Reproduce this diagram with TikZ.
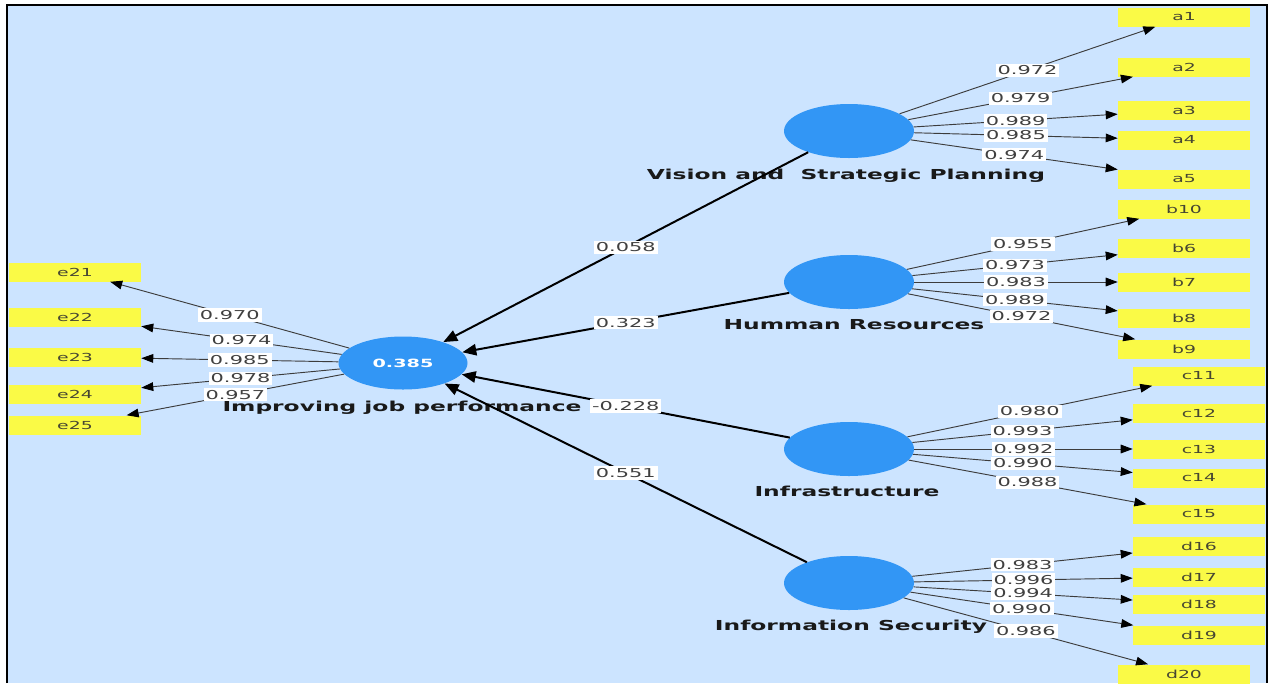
\documentclass[tikz,border=0pt]{standalone}
\usepackage{fontspec}
\usetikzlibrary{arrows.meta,shapes.geometric}
\newfontfamily\stf[FakeStretch=1.7]{DejaVu Sans}
\definecolor{bg}{RGB}{204,228,255}
\definecolor{lv}{RGB}{50,150,245}
\definecolor{ind}{RGB}{250,250,70}
\definecolor{indtxt}{RGB}{70,70,50}
\definecolor{ld}{RGB}{60,60,60}
\begin{document}
\begin{tikzpicture}[x=0.75pt,y=-0.75pt,
 lvar/.style={ellipse,fill=lv,minimum width=97.5pt,minimum height=40.5pt,inner sep=0pt},
 indbox/.style={fill=ind,minimum width=99pt,minimum height=14.25pt,inner sep=0pt,font=\stf\fontsize{8.3}{9}\selectfont,text=indtxt},
 lvlab/.style={font=\stf\bfseries\fontsize{10.3}{12}\selectfont,text=black!90,inner sep=0pt},
 wt/.style={fill=white,inner xsep=1.5pt,inner ysep=1.5pt,font=\stf\fontsize{9.2}{10}\selectfont,text=black!75},
 load/.style={draw=ld,line width=0.7pt,-{Triangle[length=9pt,width=6.5pt,fill=black,color=black]}},
 spath/.style={draw=black,line width=1.5pt,-{Triangle[length=10.5pt,width=8.5pt]}},
]
\useasboundingbox (0,0) rectangle (1272,683);
\fill[white] (0,0) rectangle (1272,683);
\fill[bg] (7,5) rectangle (1267,683);
\draw[line width=1.5pt] (7,683) -- (7,5) -- (1267,5) -- (1267,683);

% latent variables
\node[lvar] (V) at (849,131) {};
\node[lvar] (H) at (849,282) {};
\node[lvar] (I) at (849,449) {};
\node[lvar] (S) at (849,583) {};
\node[lvar,minimum width=96.75pt,minimum height=39.75pt] (J) at (403,363) {\stf\bfseries\fontsize{8.5}{10}\selectfont\textcolor{white}{0.385}};

% latent labels
\node[lvlab] (Vl) at (846,176) {Vision and\ \ Strategic Planning};
\node[lvlab] (Hl) at (854,325) {Humman Resources};
\node[lvlab] (Il) at (847,491) {Infrastructure};
\node[lvlab] (Sl) at (851,627) {Information Security};
\node[lvlab] (Jl) at (402,408) {Improving job performance};

% indicators
\node[indbox] (a1) at (1184,17) {a1};
\node[indbox] (a2) at (1184,67) {a2};
\node[indbox] (a3) at (1184,110) {a3};
\node[indbox] (a4) at (1184,140) {a4};
\node[indbox] (a5) at (1184,179) {a5};
\node[indbox] (b10) at (1184,209) {b10};
\node[indbox] (b6) at (1184,248) {b6};
\node[indbox] (b7) at (1184,282) {b7};
\node[indbox] (b8) at (1184,318) {b8};
\node[indbox] (b9) at (1184,349) {b9};
\node[indbox] (c11) at (1199,376) {c11};
\node[indbox] (c12) at (1199,413) {c12};
\node[indbox] (c13) at (1199,449) {c13};
\node[indbox] (c14) at (1199,478) {c14};
\node[indbox] (c15) at (1199,514) {c15};
\node[indbox] (d16) at (1199,546) {d16};
\node[indbox] (d17) at (1199,577) {d17};
\node[indbox] (d18) at (1199,604) {d18};
\node[indbox] (d19) at (1199,635) {d19};
\node[indbox] (d20) at (1184,674) {d20};
\node[indbox] (e21) at (75,272) {e21};
\node[indbox] (e22) at (75,317) {e22};
\node[indbox] (e23) at (75,357) {e23};
\node[indbox] (e24) at (75,394) {e24};
\node[indbox] (e25) at (75,425) {e25};

% loadings
\draw[load] (V) -- node[wt]{0.972} (a1);
\draw[load] (V) -- node[wt]{0.979} (a2);
\draw[load] (V) -- node[wt]{0.989} (a3);
\draw[load] (V) -- node[wt]{0.985} (a4);
\draw[load] (V) -- node[wt]{0.974} (a5);
\draw[load] (H) -- node[wt]{0.955} (b10);
\draw[load] (H) -- node[wt]{0.973} (b6);
\draw[load] (H) -- node[wt]{0.983} (b7);
\draw[load] (H) -- node[wt]{0.989} (b8);
\draw[load] (H) -- node[wt]{0.972} (b9);
\draw[load] (I) -- node[wt]{0.980} (c11);
\draw[load] (I) -- node[wt]{0.993} (c12);
\draw[load] (I) -- node[wt]{0.992} (c13);
\draw[load] (I) -- node[wt]{0.990} (c14);
\draw[load] (I) -- node[wt]{0.988} (c15);
\draw[load] (S) -- node[wt]{0.983} (d16);
\draw[load] (S) -- node[wt]{0.996} (d17);
\draw[load] (S) -- node[wt]{0.994} (d18);
\draw[load] (S) -- node[wt]{0.990} (d19);
\draw[load] (S) -- node[wt]{0.986} (d20);
\draw[load] (J) -- node[wt]{0.970} (e21);
\draw[load] (J) -- node[wt]{0.974} (e22);
\draw[load] (J) -- node[wt]{0.985} (e23);
\draw[load] (J) -- node[wt]{0.978} (e24);
\draw[load] (J) -- node[wt]{0.957} (e25);

% structural paths
\draw[spath] (V) -- node[wt]{0.058} (J);
\draw[spath] (H) -- node[wt]{0.323} (J);
\draw[spath] (I) -- node[wt]{-0.228} (J);
\draw[spath] (S) -- node[wt]{0.551} (J);
\end{tikzpicture}
\end{document}
